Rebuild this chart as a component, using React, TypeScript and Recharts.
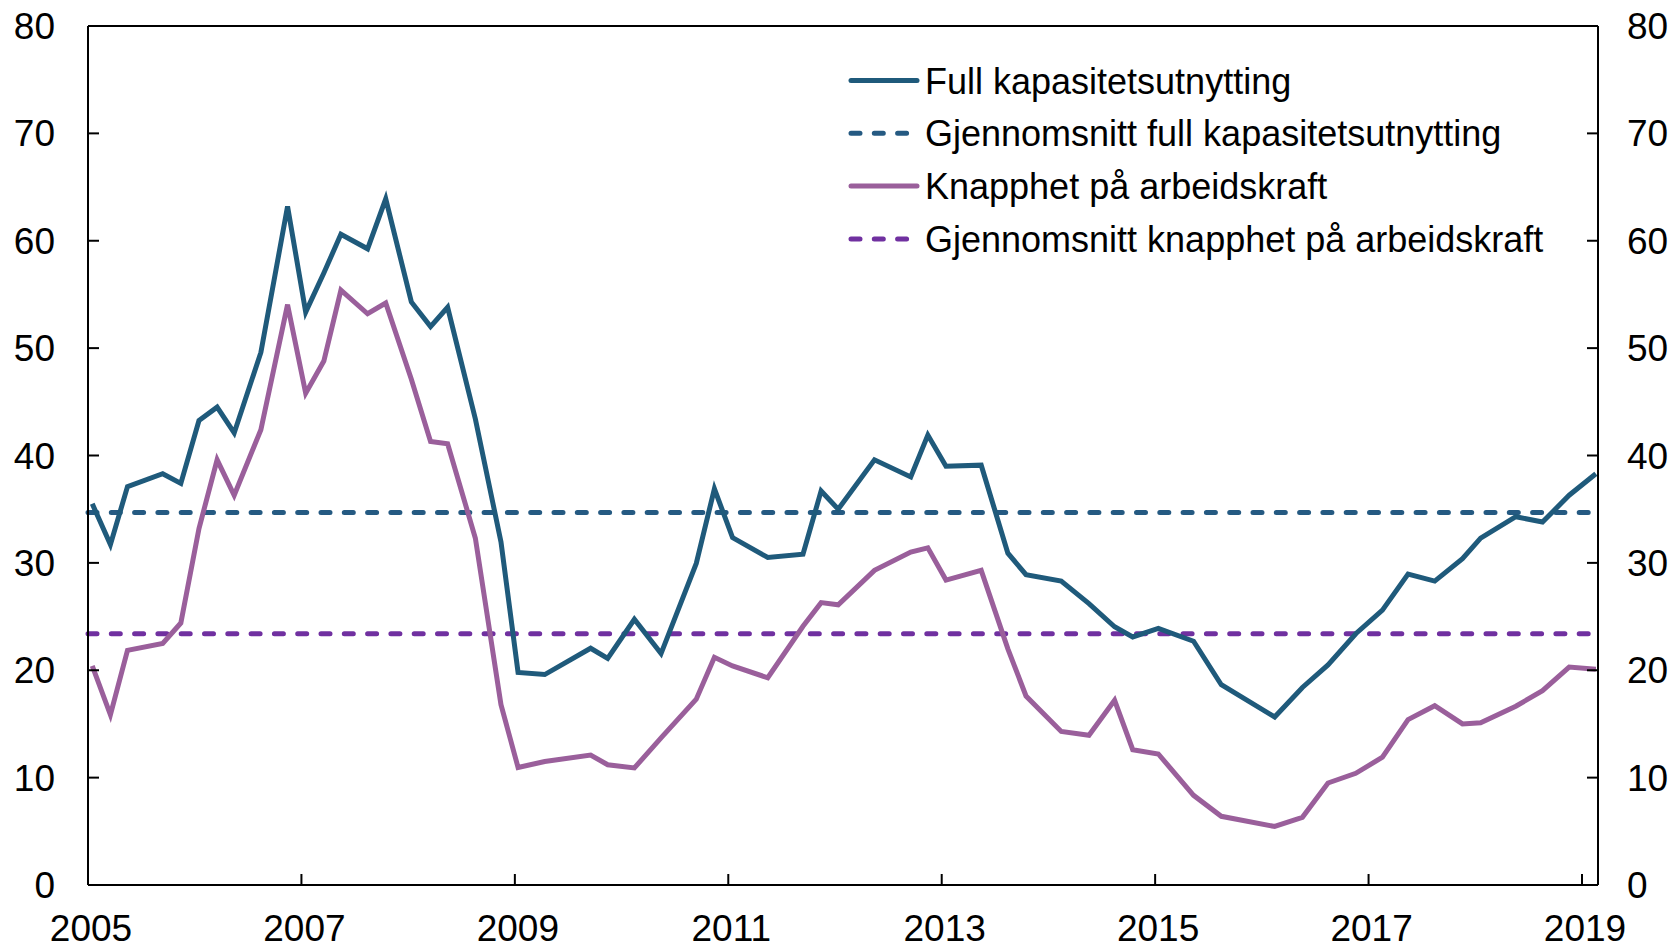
import React from "react";
import { LineChart, Line, XAxis, YAxis, ReferenceLine } from "recharts";

// Survey dates (decimal years)
const dates = [
  2005.04, 2005.21, 2005.37, 2005.7, 2005.87, 2006.04, 2006.21, 2006.37, 2006.62, 2006.87,
  2007.04, 2007.21, 2007.37, 2007.62, 2007.79, 2008.03, 2008.21, 2008.37, 2008.63, 2008.87,
  2009.03, 2009.28, 2009.71, 2009.87, 2010.12, 2010.37, 2010.7, 2010.87, 2011.04, 2011.37,
  2011.7, 2011.87, 2012.03, 2012.37, 2012.71, 2012.87, 2013.04, 2013.37, 2013.62, 2013.79,
  2014.12, 2014.38, 2014.62, 2014.79, 2015.03, 2015.36, 2015.62, 2016.12, 2016.38, 2016.62,
  2016.88, 2017.13, 2017.37, 2017.62, 2017.88, 2018.05, 2018.38, 2018.63, 2018.88, 2019.13,
];

// Full kapasitetsutnytting
const fullCapacity = [
  35.5, 31.7, 37.1, 38.3, 37.4, 43.25, 44.5, 42.1, 49.6, 63.2,
  53.35, 57.0, 60.6, 59.25, 63.9, 54.3, 52.0, 53.8, 43.4, 31.95,
  19.8, 19.6, 22.05, 21.1, 24.75, 21.55, 29.95, 36.9, 32.35, 30.5,
  30.8, 36.7, 35.0, 39.6, 38.0, 41.9, 39.0, 39.1, 30.9, 28.9,
  28.3, 26.2, 24.05, 23.1, 23.9, 22.7, 18.65, 15.65, 18.4, 20.5,
  23.4, 25.6, 28.95, 28.3, 30.4, 32.3, 34.3, 33.8, 36.3, 38.3,
];

// Knapphet på arbeidskraft
const labourShortage = [
  20.4, 15.85, 21.85, 22.5, 24.4, 33.2, 39.6, 36.3, 42.4, 54.05,
  45.8, 48.8, 55.4, 53.2, 54.2, 47.1, 41.3, 41.1, 32.3, 16.8,
  10.95, 11.5, 12.1, 11.2, 10.9, 13.7, 17.3, 21.2, 20.4, 19.3,
  24.1, 26.3, 26.1, 29.3, 31.0, 31.4, 28.4, 29.3, 22.0, 17.6,
  14.3, 13.95, 17.2, 12.6, 12.2, 8.35, 6.4, 5.45, 6.3, 9.5,
  10.4, 11.9, 15.4, 16.7, 15.0, 15.1, 16.65, 18.1, 20.3, 20.1,
];

const avgFullCapacity = 34.7;
const avgLabourShortage = 23.4;

const xTicks = [2005, 2007, 2009, 2011, 2013, 2015, 2017, 2019];
const yTicks = [0, 10, 20, 30, 40, 50, 60, 70, 80];

const legendLabels = [
  "Full kapasitetsutnytting",
  "Gjennomsnitt full kapasitetsutnytting",
  "Knapphet på arbeidskraft",
  "Gjennomsnitt knapphet på arbeidskraft",
];

const data = dates.map((x, i) => ({ x, full: fullCapacity[i], labour: labourShortage[i] }));

const FONT = "'Liberation Sans', Arial, Helvetica, sans-serif";
const FS = 37;
const LFS = 36;
const BLUE = "#1f5a7b";
const BLUE_DASH = "#255a82";
const PURPLE = "#9a5f9b";
const PURPLE_DASH = "#7030a0";
const DASH = "9 14.3";
const LW = 5;

const LeftTick = (props: any) => {
  const { x, y, payload } = props;
  return (
    <g>
      <line x1={x} x2={x + 11} y1={y} y2={y} stroke="#000" strokeWidth={2} />
      <text x={x - 33} y={y + 13} textAnchor="end" fontSize={FS} fontFamily={FONT} fill="#000">
        {payload.value}
      </text>
    </g>
  );
};

const RightTick = (props: any) => {
  const { x, y, payload } = props;
  return (
    <g>
      <line x1={x} x2={x - 11} y1={y} y2={y} stroke="#000" strokeWidth={2} />
      <text x={x + 29} y={y + 13} textAnchor="start" fontSize={FS} fontFamily={FONT} fill="#000">
        {payload.value}
      </text>
    </g>
  );
};

const BottomTick = (props: any) => {
  const { x, y, payload } = props;
  return (
    <g>
      <line x1={x} x2={x} y1={y} y2={y - 11} stroke="#000" strokeWidth={2} />
      <text x={x + 3} y={y + 55.5} textAnchor="middle" fontSize={FS} fontFamily={FONT} fill="#000">
        {payload.value}
      </text>
    </g>
  );
};

const legendStyles = [
  { color: BLUE, dash: undefined },
  { color: BLUE_DASH, dash: DASH },
  { color: PURPLE, dash: undefined },
  { color: PURPLE_DASH, dash: DASH },
];

export default function App() {
  return (
    <div style={{ position: "absolute", left: 0, top: 0, width: 1679, height: 945, background: "#fff", overflow: "hidden" }}>
      <LineChart width={1679} height={945} data={data} margin={{ top: 26, right: 0, bottom: 0, left: 0 }}>
        <XAxis
          dataKey="x"
          type="number"
          domain={[2005, 2019.15]}
          ticks={xTicks}
          allowDataOverflow
          height={60}
          tickSize={0}
          tickMargin={0}
          tickLine={false}
          axisLine={{ stroke: "#000", strokeWidth: 2 }}
          tick={<BottomTick />}
          interval={0}
        />
        <YAxis
          yAxisId="left"
          domain={[0, 80]}
          ticks={yTicks}
          width={88}
          allowDataOverflow
          tickSize={0}
          tickMargin={0}
          tickLine={false}
          axisLine={{ stroke: "#000", strokeWidth: 2 }}
          tick={<LeftTick />}
          interval={0}
        />
        <YAxis
          yAxisId="right"
          orientation="right"
          domain={[0, 80]}
          ticks={yTicks}
          width={81}
          allowDataOverflow
          tickSize={0}
          tickMargin={0}
          tickLine={false}
          axisLine={{ stroke: "#000", strokeWidth: 2 }}
          tick={<RightTick />}
          interval={0}
        />
        <ReferenceLine yAxisId="left" y={80} stroke="#000" strokeWidth={2} />
        <ReferenceLine
          yAxisId="left"
          y={avgFullCapacity}
          stroke={BLUE_DASH}
          strokeWidth={LW}
          strokeDasharray={DASH}
          strokeLinecap="round"
        />
        <ReferenceLine
          yAxisId="left"
          y={avgLabourShortage}
          stroke={PURPLE_DASH}
          strokeWidth={LW}
          strokeDasharray={DASH}
          strokeLinecap="round"
        />
        <Line
          yAxisId="left"
          type="linear"
          dataKey="labour"
          stroke={PURPLE}
          strokeWidth={LW}
          dot={false}
          isAnimationActive={false}
        />
        <Line
          yAxisId="left"
          type="linear"
          dataKey="full"
          stroke={BLUE}
          strokeWidth={LW}
          dot={false}
          isAnimationActive={false}
        />
      </LineChart>
      <svg
        width={800}
        height={280}
        style={{ position: "absolute", left: 0, top: 0, overflow: "visible", pointerEvents: "none" }}
      >
        {legendLabels.map((label, i) => {
          const cy = 80.5 + i * 52.8;
          const s = legendStyles[i];
          return (
            <g key={label}>
              <line
                x1={851}
                x2={917}
                y1={cy}
                y2={cy}
                stroke={s.color}
                strokeWidth={LW}
                strokeLinecap="round"
                strokeDasharray={s.dash}
              />
              <text x={925} y={cy + 13} fontSize={LFS} fontFamily={FONT} fill="#000">
                {label}
              </text>
            </g>
          );
        })}
      </svg>
    </div>
  );
}
